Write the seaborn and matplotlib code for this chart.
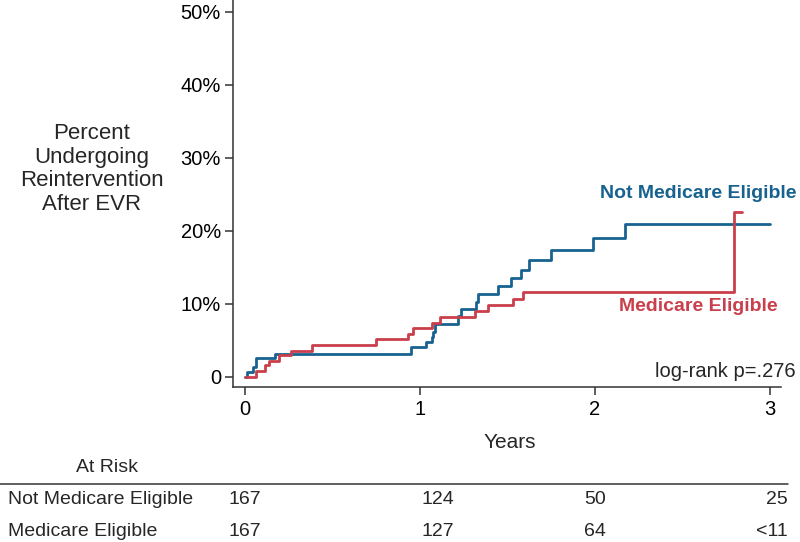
import numpy as np
import pandas as pd
import matplotlib
matplotlib.use('Agg')
import matplotlib.pyplot as plt
import matplotlib.transforms as mtransforms
from matplotlib.lines import Line2D
import seaborn as sns

# Cumulative reintervention (%), step curves
not_elig_years = [0, 0.013, 0.044, 0.063, 0.171, 0.949, 1.038, 1.067, 1.076, 1.086,
                  1.219, 1.238, 1.32, 1.333, 1.448, 1.524, 1.581, 1.625, 1.747,
                  1.99, 2.171, 3.0]
not_elig_pct = [0, 0.7, 1.3, 2.6, 3.2, 4.1, 4.8, 5.5, 6.2, 7.3,
                8.3, 9.3, 10.3, 11.3, 12.4, 13.5, 14.7, 16.0, 17.4,
                19.1, 21.0, 21.0]

elig_years = [0, 0.063, 0.114, 0.14, 0.196, 0.263, 0.385, 0.752, 0.933, 0.962,
              1.072, 1.118, 1.318, 1.39, 1.533, 1.59, 2.796, 2.84]
elig_pct = [0, 0.85, 1.6, 2.2, 3.0, 3.6, 4.4, 5.2, 5.9, 6.7,
            7.4, 8.2, 9.0, 9.8, 10.7, 11.6, 22.6, 22.6]

groups = ['Not Medicare Eligible', 'Medicare Eligible']
at_risk_times = [0, 1, 2, 3]
at_risk_not_elig = ['167', '124', '50', '25']
at_risk_elig = ['167', '127', '64', '<11']
y_ticks = [0, 10, 20, 30, 40, 50]
y_tick_labels = ['0', '10%', '20%', '30%', '40%', '50%']
p_text = 'log-rank p=.276'

blue = '#17628f'
red = '#c93f4b'

sns.set_style('ticks')
plt.rcParams['font.family'] = ['Liberation Sans', 'DejaVu Sans']

df = pd.concat([
    pd.DataFrame({'years': not_elig_years, 'pct': not_elig_pct, 'group': groups[0]}),
    pd.DataFrame({'years': elig_years, 'pct': elig_pct, 'group': groups[1]}),
])

fig = plt.figure(figsize=(8, 5.42), dpi=100)
ax = fig.add_axes([0.291, 0.286, 0.685, 0.714])

sns.lineplot(data=df, x='years', y='pct', hue='group', palette=[blue, red],
             hue_order=groups, estimator=None, drawstyle='steps-post',
             linewidth=2.0, legend=False, ax=ax)

ax.set_xlim(-0.0686, 3.063)
ax.set_ylim(-1.37, 51.64)
ax.set_xticks(at_risk_times)
ax.set_yticks(y_ticks)
ax.set_yticklabels(y_tick_labels)
ax.tick_params(axis='both', labelsize=14.5, length=6, width=1.1, color='#333333',
               labelcolor='black')
ax.tick_params(axis='y', pad=2.5)
ax.set_xlabel('')
ax.set_ylabel('')
sns.despine(ax=ax)
for s in ['left', 'bottom']:
    ax.spines[s].set_linewidth(1.1)
    ax.spines[s].set_color('#333333')

# curve labels and test
ax.text(3.154, 25.2, groups[0], color=blue, fontsize=14, fontweight='bold',
        ha='right', va='center', clip_on=False)
ax.text(3.046, 9.66, groups[1], color=red, fontsize=14, fontweight='bold',
        ha='right', va='center', clip_on=False)
ax.text(3.149, 0.7, p_text, fontsize=14.5, ha='right', va='center', clip_on=False)

# y label (horizontal, multi-line)
fig.text(0.115, 1 - 169 / 542, 'Percent\nUndergoing\nReintervention\nAfter EVR',
         fontsize=16, ha='center', va='center', linespacing=1.15)

fig.text(510 / 800, 1 - 443 / 542, 'Years', fontsize=15, ha='center', va='center')

# at-risk table
fig.text(107 / 800, 1 - 468 / 542, 'At Risk', fontsize=14, ha='center', va='center')
fig.add_artist(Line2D([0, 788 / 800], [1 - 484 / 542] * 2, color='#333333', linewidth=1.1))

trans = mtransforms.blended_transform_factory(ax.transData, fig.transFigure)
col_x = [0, 1.01, 2.0, 3.1]
col_ha = ['center', 'left', 'center', 'right']
rows = [(groups[0], at_risk_not_elig, 1 - 500 / 542), (groups[1], at_risk_elig, 1 - 531 / 542)]
for name, vals, yy in rows:
    fig.text(8 / 800, yy, name, fontsize=14, ha='left', va='center')
    for xv, ha, v in zip(col_x, col_ha, vals):
        ax.text(xv, yy, v, transform=trans, fontsize=14, ha=ha, va='center', clip_on=False)

plt.savefig('out.png', dpi=100)
